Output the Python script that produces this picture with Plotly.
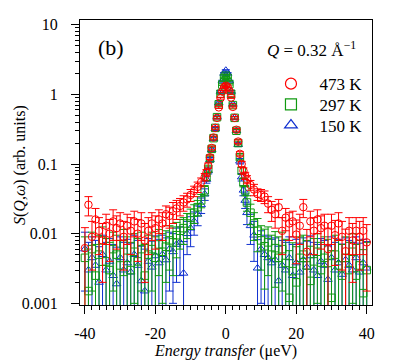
import plotly.graph_objects as go

# Energy transfer grid (µeV)
energy = [-40, -39, -38, -37, -36, -35, -34, -33, -32, -31, -30, -29, -28, -27, -26, -25, -24, -23, -22, -21,
          -20, -19, -18, -17, -16, -15, -14, -13, -12, -11, -10, -9, -8, -7, -6,
          -5.5, -5, -4.5, -4, -3.5, -3, -2.5, -2, -1.5, -1, -0.5, 0, 0.5, 1, 1.5, 2, 2.5, 3, 3.5, 4, 4.5, 5, 5.5,
          6, 7, 8, 9, 10, 11, 12, 13, 14, 15, 16, 17, 18, 19, 20, 21, 22, 23, 24, 25, 26, 27, 28, 29, 30,
          31, 32, 33, 34, 35, 36, 37, 38, 39, 40]

s_473 = [0.0062, 0.026, 0.009, 0.016, 0.011, 0.008, 0.013, 0.010, 0.015, 0.012, 0.014, 0.009, 0.013, 0.011, 0.015,
         0.010, 0.014, 0.008, 0.011, 0.014, 0.012, 0.016, 0.014, 0.019, 0.018, 0.021, 0.023, 0.025, 0.028, 0.031,
         0.036, 0.041, 0.047, 0.055, 0.065,
         0.075, 0.095, 0.125, 0.17, 0.24, 0.33, 0.46, 0.65, 0.88, 1.1, 1.27, 1.33, 1.28, 1.12, 0.9, 0.66, 0.46,
         0.31, 0.21, 0.14, 0.1, 0.08, 0.068,
         0.06, 0.05, 0.043, 0.037, 0.036, 0.034, 0.027, 0.022, 0.019, 0.024, 0.011, 0.017, 0.014, 0.015, 0.0097,
         0.013, 0.024, 0.0055, 0.015, 0.011, 0.016, 0.012, 0.013, 0.006, 0.013, 0.0095, 0.014, 0.009, 0.0056,
         0.011, 0.008, 0.011, 0.009, 0.011, 0.0075]
e_473 = [0.006, 0.008, 0.006, 0.007, 0.006, 0.006, 0.006, 0.006, 0.007, 0.006, 0.006, 0.006, 0.006, 0.006, 0.006,
         0.006, 0.006, 0.006, 0.006, 0.006, 0.006, 0.006, 0.006, 0.006, 0.006, 0.007, 0.007, 0.007, 0.007, 0.007,
         0.007, 0.007, 0.008, 0.008, 0.008,
         0.008, 0.008, 0.009, 0.01, 0.012, 0.014, 0.018, 0.022, 0.026, 0.032, 0.036, 0.04, 0.036, 0.032, 0.026,
         0.022, 0.018, 0.014, 0.012, 0.01, 0.009, 0.008, 0.008,
         0.008, 0.008, 0.008, 0.007, 0.007, 0.007, 0.007, 0.007, 0.007, 0.007, 0.006, 0.006, 0.006, 0.006, 0.006,
         0.006, 0.007, 0.006, 0.006, 0.006, 0.006, 0.006, 0.006, 0.006, 0.006, 0.006, 0.006, 0.006, 0.006,
         0.006, 0.006, 0.006, 0.006, 0.006, 0.006]

s_297 = [0.0045, 0.0015, 0.006, 0.0025, 0.005, 0.008, 0.004, 0.003, 0.006, 0.005, 0.0035, 0.007, 0.0045, 0.003,
         0.0055, 0.004, 0.006, 0.0025, 0.005, 0.006, 0.0045, 0.007, 0.0055, 0.0065, 0.008, 0.0075, 0.0095, 0.011,
         0.012, 0.014, 0.017, 0.02, 0.024, 0.03, 0.042,
         0.065, 0.085, 0.12, 0.165, 0.235, 0.33, 0.47, 0.72, 1.02, 1.38, 1.72, 1.85, 1.72, 1.4, 1.02, 0.7, 0.46,
         0.3, 0.2, 0.125, 0.08, 0.055, 0.042,
         0.028, 0.02, 0.014, 0.011, 0.008, 0.0066, 0.0075, 0.005, 0.0062, 0.0045, 0.006, 0.0038, 0.0012, 0.0029,
         0.002, 0.0045, 0.005, 0.0035, 0.0021, 0.004, 0.0055, 0.003, 0.0045, 0.0038, 0.0012, 0.005, 0.0035,
         0.0025, 0.0045, 0.003, 0.0055, 0.0025, 0.0035, 0.0014, 0.003]
e_297 = [0.0045, 0.0045, 0.0045, 0.0045, 0.0045, 0.0045, 0.0045, 0.0045, 0.0045, 0.0045, 0.0045, 0.0045, 0.0045,
         0.0045, 0.0045, 0.0045, 0.0045, 0.0045, 0.0045, 0.0045, 0.0045, 0.0045, 0.0045, 0.0045, 0.005, 0.005,
         0.005, 0.005, 0.005, 0.0055, 0.0055, 0.006, 0.006, 0.0065, 0.007,
         0.007, 0.008, 0.009, 0.01, 0.012, 0.014, 0.018, 0.024, 0.03, 0.036, 0.042, 0.045, 0.042, 0.036, 0.03,
         0.024, 0.018, 0.014, 0.012, 0.01, 0.009, 0.008, 0.007,
         0.007, 0.0065, 0.006, 0.0055, 0.005, 0.005, 0.005, 0.0045, 0.0045, 0.0045, 0.0045, 0.0045, 0.0045,
         0.0045, 0.0045, 0.0045, 0.0045, 0.0045, 0.0045, 0.0045, 0.0045, 0.0045, 0.0045, 0.0045, 0.0045,
         0.0045, 0.0045, 0.0045, 0.0045, 0.0045, 0.0045, 0.0045, 0.0045, 0.0045, 0.0045]

s_150 = [0.006, 0.003, 0.0045, 0.0035, 0.002, 0.005, 0.003, 0.004, 0.0025, 0.0019, 0.0045, 0.003, 0.0038, 0.0028,
         0.005, 0.0035, 0.0021, 0.0015, 0.004, 0.0033, 0.0048, 0.0038, 0.005, 0.0042, 0.006, 0.0055, 0.007, 0.0075,
         0.0027, 0.01, 0.012, 0.015, 0.019, 0.026, 0.037,
         0.06, 0.08, 0.115, 0.16, 0.23, 0.32, 0.47, 0.75, 1.1, 1.55, 2.0, 2.2, 2.0, 1.55, 1.1, 0.72, 0.46,
         0.3, 0.19, 0.11, 0.065, 0.042, 0.03,
         0.02, 0.013, 0.0095, 0.0032, 0.006, 0.005, 0.0045, 0.0038, 0.0042, 0.0021, 0.0035, 0.003, 0.0045,
         0.0025, 0.0038, 0.0028, 0.0042, 0.0033, 0.0048, 0.003, 0.0025, 0.004, 0.0035, 0.0022, 0.0045, 0.003,
         0.0038, 0.0026, 0.0042, 0.0035, 0.003, 0.0045, 0.0028, 0.0038, 0.0032]
e_150 = [0.0045, 0.0045, 0.0045, 0.0045, 0.0045, 0.0045, 0.0045, 0.0045, 0.0045, 0.0045, 0.0045, 0.0045, 0.0045,
         0.0045, 0.0045, 0.0045, 0.0045, 0.0045, 0.0045, 0.0045, 0.0045, 0.0045, 0.0045, 0.0045, 0.0045, 0.0045,
         0.005, 0.005, 0.005, 0.005, 0.0055, 0.0055, 0.006, 0.0065, 0.007,
         0.007, 0.008, 0.009, 0.01, 0.012, 0.015, 0.02, 0.026, 0.034, 0.042, 0.05, 0.055, 0.05, 0.042, 0.034,
         0.026, 0.02, 0.015, 0.012, 0.01, 0.008, 0.007, 0.007,
         0.0065, 0.006, 0.0055, 0.005, 0.005, 0.0045, 0.0045, 0.0045, 0.0045, 0.0045, 0.0045, 0.0045, 0.0045,
         0.0045, 0.0045, 0.0045, 0.0045, 0.0045, 0.0045, 0.0045, 0.0045, 0.0045, 0.0045, 0.0045, 0.0045,
         0.0045, 0.0045, 0.0045, 0.0045, 0.0045, 0.0045, 0.0045, 0.0045, 0.0045, 0.0045]

# name, values, errors, colour, symbol, legend id
series = [
    ("150 K", s_150, e_150, "#1030D0", "triangle-up-open", "legend3"),
    ("297 K", s_297, e_297, "#109A10", "square-open", "legend2"),
    ("473 K", s_473, e_473, "#FF0000", "circle-open", "legend"),
]

FONT = "Liberation Serif, Times New Roman, serif"

fig = go.Figure()
for name, vals, errs, col, sym, lg in series:
    fig.add_trace(go.Scatter(
        x=energy, y=vals, mode="markers", name=name, showlegend=False,
        marker=dict(symbol=sym, size=7.5, color=col, line=dict(width=1, color=col)),
        error_y=dict(type="data", array=errs, visible=True, color=col, thickness=1, width=4),
    ))

# legend entries, one small legend per entry
for name, vals, errs, col, sym, lg in reversed(series):
    fig.add_trace(go.Scatter(
        x=[None], y=[None], mode="markers", name="\u00a0\u00a0" + name, showlegend=True, legend=lg,
        marker=dict(symbol=sym, size=11, color=col, line=dict(width=1.2, color=col)),
    ))

x_ticks = [-40, -20, 0, 20, 40]
x_ticktext = ["-40", "-20", "0", "20", "40"]
y_ticks = [0.001, 0.01, 0.1, 1, 10]
y_ticktext = ["0.001", "0.01", "0.1", "1", "10"]
y_minor = [m * 10 ** p for p in range(-3, 1) for m in range(2, 10)]

leg_common = dict(xanchor="left", yanchor="middle", bgcolor="rgba(0,0,0,0)", borderwidth=0,
                  font=dict(family=FONT, size=17, color="black"), itemwidth=30)
leg_x = 0.654

fig.update_layout(
    width=399, height=355,
    margin=dict(l=72, r=35, t=8, b=58),
    paper_bgcolor="white", plot_bgcolor="white",
    font=dict(family=FONT, size=16, color="black"),
    showlegend=True,
    legend=dict(x=leg_x, y=(305 - 81) / 289, **leg_common),
    legend2=dict(x=leg_x, y=(305 - 102) / 289, **leg_common),
    legend3=dict(x=leg_x, y=(305 - 123) / 289, **leg_common),
    xaxis=dict(range=[-41.4, 41.5], tickvals=x_ticks, ticktext=x_ticktext,
               ticks="outside", ticklen=8, tickwidth=1, tickcolor="black",
               showline=True, linecolor="black", linewidth=1, mirror=True,
               showgrid=False, zeroline=False, ticklabelstandoff=6,
               tickfont=dict(family=FONT, size=16),
               minor=dict(dtick=2, ticks="outside", ticklen=4, tickwidth=1, tickcolor="black", showgrid=False)),
    yaxis=dict(type="log", range=[-3.024, 1.067], tickvals=y_ticks, ticktext=y_ticktext,
               ticks="outside", ticklen=8, tickwidth=1, tickcolor="black",
               showline=True, linecolor="black", linewidth=1, mirror=True,
               showgrid=False, zeroline=False, ticklabelstandoff=10,
               tickfont=dict(family=FONT, size=16),
               minor=dict(tickvals=y_minor, ticks="outside", ticklen=4, tickwidth=1, tickcolor="black", showgrid=False)),
    annotations=[
        dict(text="(b)", xref="paper", yref="paper", x=(111 - 80) / 292, y=(305 - 44) / 289,
             xanchor="center", yanchor="middle", showarrow=False, font=dict(family=FONT, size=22)),
        dict(text="<i>Q</i> = 0.32 Å<sup>−1</sup>", xref="paper", yref="paper",
             x=(358 - 80) / 292, y=(305 - 45) / 289, xanchor="right", yanchor="middle",
             showarrow=False, font=dict(family=FONT, size=17)),
        dict(text="<i>Energy transfer</i> (μeV)", xref="paper", yref="paper",
             x=(225 - 80) / 292, y=(305 - 352) / 289, xanchor="center", yanchor="middle",
             showarrow=False, font=dict(family=FONT, size=16)),
        dict(text="<i>S</i>(<i>Q</i>,<i>ω</i>) (arb. units)", xref="paper", yref="paper",
             x=(20 - 80) / 292, y=(305 - 163) / 289, xanchor="center", yanchor="middle",
             textangle=-90, showarrow=False, font=dict(family=FONT, size=16)),
    ],
)

fig.write_html("out.html")
